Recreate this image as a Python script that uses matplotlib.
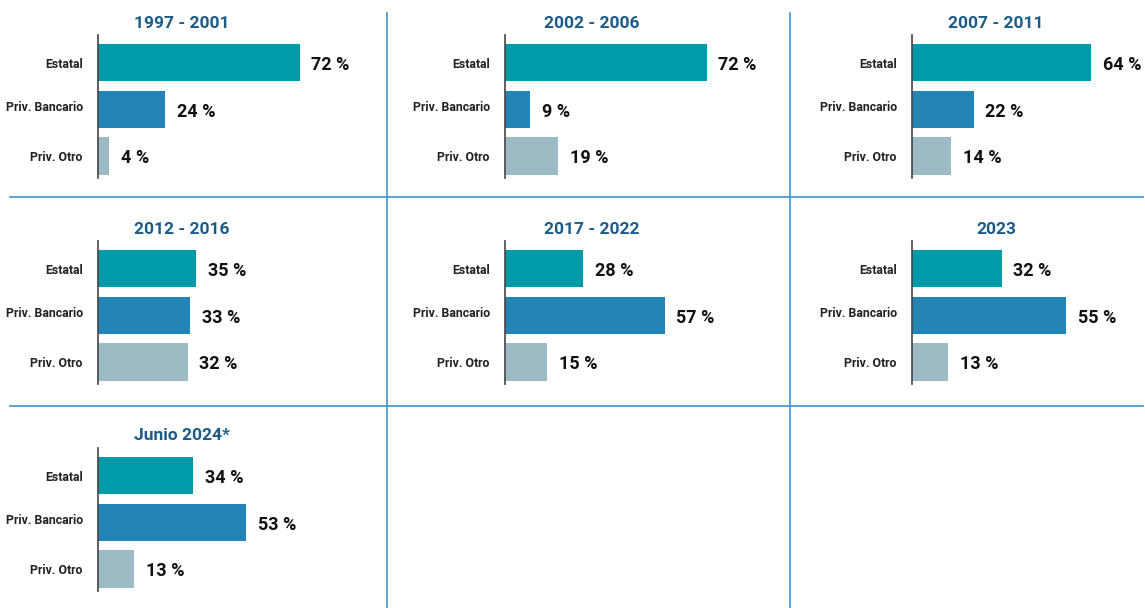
import matplotlib
matplotlib.use("Agg")
import matplotlib.pyplot as plt
from matplotlib.lines import Line2D

plt.rcParams['font.family'] = ['Roboto', 'DejaVu Sans']

# datos
periodos = ['1997 - 2001', '2002 - 2006', '2007 - 2011',
            '2012 - 2016', '2017 - 2022', '2023', 'Junio 2024*']
categorias = ['Estatal', 'Priv. Bancario', 'Priv. Otro']
estatal = [72, 72, 64, 35, 28, 32, 34]
bancario = [24, 9, 22, 33, 57, 55, 53]
otro = [4, 19, 14, 32, 15, 13, 13]

colores = ['#009aa8', '#2384b5', '#9dbbc4']
color_titulo = '#1b5b87'
color_sep = '#3d93cb'

W, H = 1145, 608
fig = plt.figure(figsize=(W / 100, H / 100), dpi=100)

col_x = [98, 505, 912]      # eje vertical de cada columna (px)
row_top = [35, 241, 448]    # parte superior del eje (px)
ax_h = 143
px_por_pct = 2.8
ax_w = 100 * px_por_pct

for i, per in enumerate(periodos):
    r, c = divmod(i, 3)
    left = col_x[c]
    top = row_top[r]
    ax = fig.add_axes([left / W, 1 - (top + ax_h) / H, ax_w / W, ax_h / H])
    vals = [estatal[i], bancario[i], otro[i]]
    ax.barh(range(3), vals, height=0.8, color=colores)
    ax.set_xlim(0, 100)
    ax.set_ylim(2.47, -0.59)
    for s in ['top', 'right', 'bottom']:
        ax.spines[s].set_visible(False)
    ax.spines['left'].set_color('#444444')
    ax.spines['left'].set_linewidth(1.2)
    ax.set_xticks([])
    ax.set_yticks([0, 0.92, 2])
    ax.set_yticklabels(categorias, fontsize=8.8, fontweight='bold', color='#222222')
    ax.tick_params(axis='y', length=0, pad=11)
    for j, v in enumerate(vals):
        ax.text(v + 4.2, j + 0.05, f'{v} %', va='center', ha='left',
                fontsize=13, fontweight='bold', color='#111111')
    # titulo
    cx = left + (30 if c != 1 else 31) * px_por_pct
    fig.text(cx / W, 1 - (top - 12) / H, per, ha='center', va='center',
             fontsize=12.5, fontweight='bold', color=color_titulo)

# separadores
for y in [197, 406]:
    fig.add_artist(Line2D([10 / W, 1143 / W], [1 - y / H, 1 - y / H],
                          color=color_sep, lw=1.2))
for x in [387, 790]:
    fig.add_artist(Line2D([x / W, x / W], [1 - 13 / H, 0],
                          color=color_sep, lw=1.2))

fig.savefig('out.png', dpi=100)
